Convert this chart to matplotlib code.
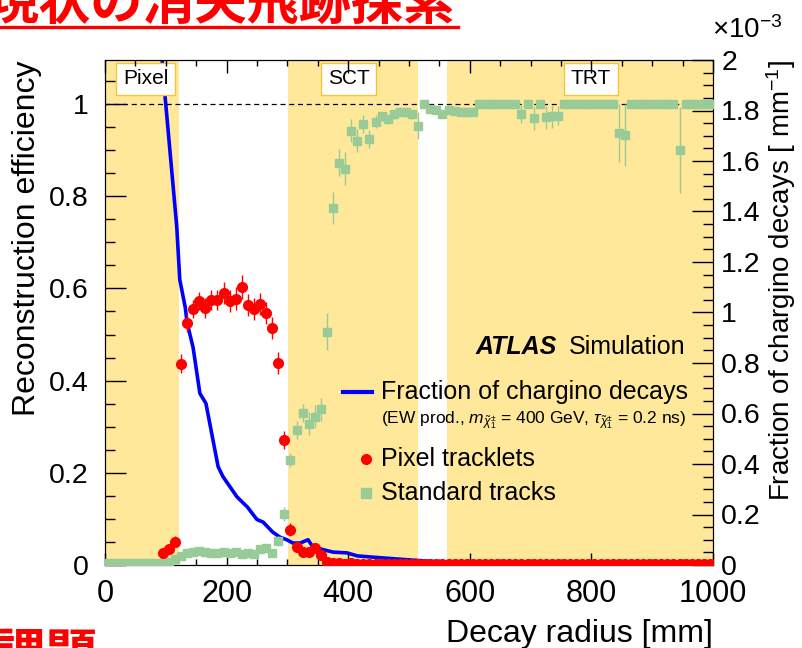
import numpy as np
import matplotlib
matplotlib.use("Agg")
import matplotlib.pyplot as plt
from matplotlib.lines import Line2D
from matplotlib.ticker import MultipleLocator, FuncFormatter

plt.rcParams['font.family'] = ['Liberation Sans', 'DejaVu Sans']
plt.rcParams['mathtext.fontset'] = 'custom'
plt.rcParams['mathtext.rm'] = 'Liberation Sans'
plt.rcParams['mathtext.it'] = 'Liberation Sans:italic'

# ---------------- data ----------------
# Pixel tracklets (10 mm bins, centers)
pix_r = [95, 105, 115, 125, 135, 145, 155, 165, 175, 185, 195, 205, 215, 225, 235, 245,
         255, 265, 275, 285, 295, 305, 315, 325, 335, 345, 355, 365, 375,
         385, 395, 405, 415, 425, 435, 445, 455, 465, 475, 485, 495, 505, 515, 525,
         535, 545, 555, 565, 575, 585, 595, 605, 615, 625, 635, 645, 655, 665, 675,
         685, 695, 705, 715, 725, 735, 745, 755, 765, 775, 785, 795, 805, 815, 825,
         835, 845, 855, 865, 875, 885, 895, 905, 915, 925, 935, 945, 955, 965, 975,
         985, 995]
pix_eff = [0.025, 0.034, 0.050, 0.437, 0.525, 0.555, 0.573, 0.557, 0.575, 0.575, 0.590,
           0.573, 0.578, 0.602, 0.564, 0.555, 0.566, 0.546, 0.515, 0.438, 0.271, 0.077,
           0.040, 0.029, 0.029, 0.036, 0.022, 0.007, 0.004,
           0.004, 0.003, 0.004, 0.003, 0.003, 0.002, 0.003, 0.002, 0.003, 0.002, 0.002,
           0.003, 0.002, 0.002, 0.002, 0.003, 0.002, 0.002, 0.002, 0.002, 0.002, 0.002,
           0.002, 0.002, 0.002, 0.002, 0.002, 0.002, 0.002, 0.002, 0.002, 0.002, 0.002,
           0.002, 0.002, 0.002, 0.002, 0.002, 0.002, 0.002, 0.002, 0.002, 0.002, 0.002,
           0.002, 0.002, 0.002, 0.002, 0.002, 0.002, 0.002, 0.002, 0.002, 0.002, 0.002,
           0.002, 0.002, 0.002, 0.002, 0.002, 0.002, 0.002]
pix_err = [0.008, 0.010, 0.012, 0.020, 0.020, 0.020, 0.020, 0.022, 0.022, 0.022, 0.024,
           0.024, 0.024, 0.026, 0.024, 0.024, 0.024, 0.024, 0.024, 0.024, 0.020, 0.014,
           0.010, 0.008, 0.008, 0.008, 0.006, 0.004, 0.003] + [0.002] * 62

# Standard tracks
std_r = [5, 15, 25, 35, 45, 55, 65, 75, 85, 95, 105, 115, 125, 135, 145, 155, 165, 175,
         185, 195, 205, 215, 225, 235, 245, 255, 265, 275, 285, 295, 305, 315, 325, 335,
         345, 355, 365, 375, 385, 395, 405, 415, 425, 435, 445, 455, 465, 475, 485, 495,
         505, 515, 525, 535, 545, 555, 565, 575, 585, 595, 605, 615, 625, 635, 645, 655,
         665, 675, 685, 695, 705, 715, 725, 735, 745, 755, 765, 775, 785, 795, 805, 815,
         825, 835, 845, 855, 865, 875, 885, 895, 905, 915, 925, 935, 945, 955, 965, 975,
         985, 995]
std_eff = [0.004, 0.004, 0.004, 0.004, 0.004, 0.004, 0.004, 0.004, 0.005, 0.005, 0.006,
           0.012, 0.019, 0.027, 0.029, 0.031, 0.029, 0.027, 0.025, 0.029, 0.025, 0.029,
           0.024, 0.027, 0.024, 0.034, 0.036, 0.027, 0.052, 0.110, 0.228, 0.293, 0.330,
           0.306, 0.322, 0.338, 0.506, 0.774, 0.873, 0.860, 0.942, 0.920, 0.957, 0.924,
           0.962, 0.973, 0.967, 0.978, 0.983, 0.982, 0.978, 0.953, 1.000, 0.989, 0.987,
           0.978, 0.987, 0.985, 0.983, 0.983, 0.983, 1.000, 1.000, 1.000, 1.000, 1.000,
           1.000, 1.000, 0.978, 1.000, 0.969, 1.000, 0.971, 0.973, 0.975, 1.000, 1.000,
           1.000, 1.000, 1.000, 1.000, 1.000, 1.000, 1.000, 0.938, 0.933, 1.000, 1.000,
           1.000, 1.000, 1.000, 1.000, 1.000, 1.000, 0.900, 1.000, 1.000, 1.000, 1.000,
           1.000]
std_err = [0.002] * 13 + [0.005] * 15 + [0.010, 0.015, 0.015, 0.020, 0.020, 0.025, 0.025,
           0.025, 0.040, 0.035, 0.030, 0.035, 0.025, 0.025, 0.020, 0.020, 0.015, 0.010,
           0.010, 0.010, 0.010, 0.010, 0.010, 0.030, 0.000, 0.008, 0.008, 0.008, 0.008,
           0.008, 0.008, 0.008, 0.008, 0.000, 0.000, 0.000, 0.000, 0.000, 0.000, 0.000,
           0.020, 0.000, 0.025, 0.000, 0.025, 0.025, 0.020, 0.000, 0.000, 0.000, 0.000,
           0.000, 0.000, 0.000, 0.000, 0.000, 0.063, 0.068, 0.000, 0.000, 0.000, 0.000,
           0.000, 0.000, 0.000, 0.000, 0.094, 0.000, 0.000, 0.000, 0.000, 0.000]

# Fraction of chargino decays [x1e-3 mm^-1]
frac_r = [80, 94, 99, 118, 123, 132, 135, 145, 156, 166, 186, 194, 217, 234, 250, 260,
          276, 288, 299, 309, 321, 334, 342, 375, 398, 415, 457, 502, 600, 700, 800, 900, 1000]
frac_val = [2.40, 2.00, 1.85, 1.34, 1.13, 1.02, 0.96, 0.86, 0.68, 0.64, 0.39, 0.35, 0.27,
            0.23, 0.18, 0.17, 0.13, 0.11, 0.10, 0.087, 0.087, 0.10, 0.071, 0.051, 0.048,
            0.036, 0.028, 0.020, 0.004, 0.002, 0.001, 0.0, 0.0]

# Detector regions: name, start, end, label centre
regions = [("Pixel", 0, 122, 67), ("SCT", 301, 515, 401), ("TRT", 562, 1000, 799)]

# ---------------- figure ----------------
W, H = 802, 648
fig = plt.figure(figsize=(W / 100, H / 100), dpi=100)
L, R, T, B = 105, 713, 60, 565
ax = fig.add_axes([L / W, 1 - B / H, (R - L) / W, (B - T) / H])
ax2 = ax.twinx()
# ax2 (shading + decay fraction) sits below ax (efficiencies)
ax.set_zorder(ax2.get_zorder() + 1)
ax.patch.set_visible(False)
ax2.patch.set_visible(True)
ax2.patch.set_facecolor('white')

yellow = '#FFE89A'
for name, x0, x1, xc in regions:
    ax2.axvspan(x0, x1, color=yellow, lw=0, zorder=0.5)
    ax2.text(xc, 1.0 - (79 - 60) / 505, name, transform=ax2.get_xaxis_transform(),
             ha='center', va='center', fontsize=15, zorder=3,
             bbox=dict(boxstyle='square,pad=0.32', fc='white', ec='#F3C53E', lw=1.0))

ax2.plot(frac_r, frac_val, color='#0000FF', lw=2.6, zorder=2, solid_joinstyle='round')
ax2.set_ylim(0, 2.0)
ax2.set_xlim(0, 1000)

ax.set_xlim(0, 1000)
ax.set_ylim(0, 505 / 461)
ax.axhline(1.0, color='black', lw=0.9, ls=(0, (4, 3)), zorder=2)
ax.errorbar(std_r, std_eff, yerr=std_err, fmt='s', color='#98CB98', ms=6.3, mec='#98CB98',
            elinewidth=1.0, capsize=0, zorder=3)
ax.errorbar(pix_r, pix_eff, yerr=pix_err, fmt='o', color='#FF0000', ms=7.0, mec='#FF0000',
            elinewidth=1.0, capsize=0, zorder=4)

# ticks
ax.xaxis.set_major_locator(MultipleLocator(200))
ax.xaxis.set_minor_locator(MultipleLocator(50))
ax.yaxis.set_major_locator(MultipleLocator(0.2))
ax.yaxis.set_minor_locator(MultipleLocator(0.05))
ax.yaxis.set_major_formatter(FuncFormatter(lambda v, p: f"{v:g}"))
ax.tick_params(axis='x', which='both', direction='in', top=True, bottom=True,
               labelsize=22, pad=10)
ax.tick_params(axis='x', which='major', length=9, width=1)
ax.tick_params(axis='x', which='minor', length=4.5, width=1)
ax.tick_params(axis='y', which='both', direction='in', left=True, right=False,
               labelsize=20.5, pad=12)
ax.tick_params(axis='y', which='major', length=15, width=1)
ax.tick_params(axis='y', which='minor', length=7.5, width=1)

ax2.yaxis.set_major_locator(MultipleLocator(0.2))
ax2.yaxis.set_minor_locator(MultipleLocator(0.05))
ax2.yaxis.set_major_formatter(FuncFormatter(lambda v, p: f"{v:g}"))
ax2.tick_params(axis='y', which='both', direction='in', left=False, right=True,
                labelsize=20.5, pad=6)
ax2.tick_params(axis='y', which='major', length=15, width=1)
ax2.tick_params(axis='y', which='minor', length=7.5, width=1)

ax.set_xlabel("Decay radius [mm]", fontsize=23, loc='right', labelpad=7)
ax.set_ylabel("Reconstruction efficiency", fontsize=23, loc='top', labelpad=5)
ax2.set_ylabel("Fraction of chargino decays [ mm$^{-1}$]", fontsize=20, loc='top',
               labelpad=2)
fig.text(712 / W, 1 - 38 / H, r"$\times$10$^{-3}$", fontsize=20, ha='left', va='baseline')

# legend (manual, in axes coords)
def axx(px):
    return (px - L) / (R - L)

def axy(py):
    return (B - py) / (B - T)

ax.add_line(Line2D([axx(343), axx(372)], [axy(391.5)] * 2, transform=ax.transAxes,
                   color='#0000FF', lw=3.0, zorder=5))
ax.text(axx(381), axy(391.5), "Fraction of chargino decays", transform=ax.transAxes,
        fontsize=18, ha='left', va='center', zorder=5)
ax.text(axx(381), axy(420), r"(EW prod., $m_{\tilde{\chi}^{\pm}_{1}}$ = 400 GeV, $\tau_{\tilde{\chi}^{\pm}_{1}}$ = 0.2 ns)",
        transform=ax.transAxes, fontsize=12.5, ha='left', va='center', zorder=5)
ax.add_line(Line2D([axx(366)], [axy(459)], transform=ax.transAxes, marker='o', ms=7,
                   color='#FF0000', lw=0, zorder=5))
ax.text(axx(381), axy(459), "Pixel tracklets", transform=ax.transAxes,
        fontsize=18, ha='left', va='center', zorder=5)
ax.add_line(Line2D([axx(366)], [axy(492.5)], transform=ax.transAxes, marker='s', ms=6.5,
                   color='#98CB98', lw=0, zorder=5))
ax.text(axx(381), axy(492.5), "Standard tracks", transform=ax.transAxes,
        fontsize=18, ha='left', va='center', zorder=5)
ax.text(axx(476), axy(347), "ATLAS", transform=ax.transAxes, fontsize=18,
        fontweight='bold', fontstyle='italic', ha='left', va='center', zorder=5)
ax.text(axx(569), axy(347), "Simulation", transform=ax.transAxes, fontsize=18,
        ha='left', va='center', zorder=5)

# slide fragments (clipped Japanese title and bottom heading, as in the reference)
cjk = ['Noto Sans CJK JP', 'DejaVu Sans']
fig.text(-14 / W, 1 - 20 / H, "現状の消失飛跡探索", family=cjk, fontsize=37.5,
         fontweight='bold', color='#FF0000', ha='left', va='baseline')
fig.add_artist(Line2D([0, 458 / W], [1 - 26.5 / H] * 2, transform=fig.transFigure,
                      color='#FF0000', lw=2.4))
fig.text(-8 / W, 1 - 672 / H, "課題", family=cjk, fontsize=38,
         fontweight='bold', color='#FF0000', ha='left', va='baseline')

fig.savefig("out.png", dpi=100)
